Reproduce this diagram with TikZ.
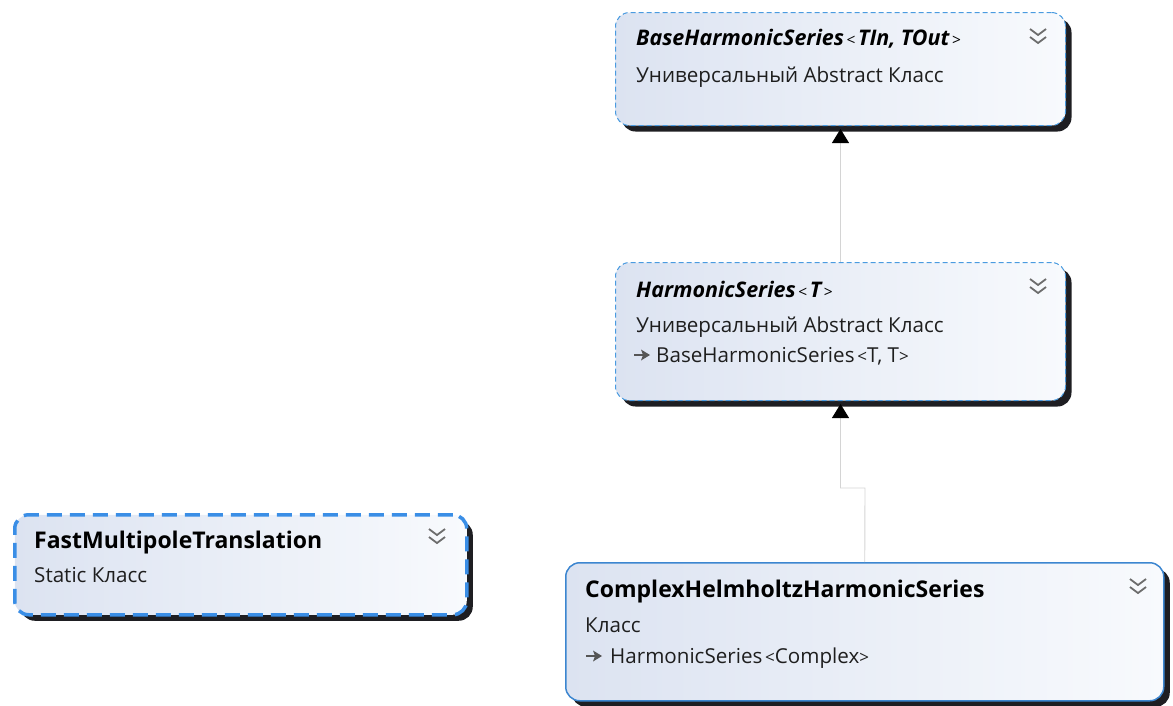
\documentclass[tikz,border=0pt]{standalone}
\usepackage{fontspec}
\setmainfont{Open Sans}
\usetikzlibrary{arrows.meta,shadows,calc}
\definecolor{boxL}{HTML}{DCE3F1}
\definecolor{boxR}{HTML}{F8FAFD}
\definecolor{bordc}{HTML}{4A9BE0}
\definecolor{thickc}{HTML}{3A8EE6}
\definecolor{solidc}{HTML}{3C86D0}
\definecolor{shadc}{HTML}{1E1E22}
\definecolor{linec}{HTML}{D4D4D4}
\definecolor{txtc}{HTML}{1E1E1E}
\definecolor{chevc}{HTML}{6E6E6E}
\definecolor{iconc}{HTML}{555555}
\newcommand\angL{{\fontsize{15.5}{15.5}\selectfont\mdseries\upshape\,<\,}}
\newcommand\angR{{\fontsize{15.5}{15.5}\selectfont\mdseries\upshape\,>}}
\newcommand\sangL{{\fontsize{17}{17}\selectfont\,<}}
\newcommand\sangR{{\fontsize{17}{17}\selectfont>}}
\begin{document}
\begin{tikzpicture}[x=1pt,y=-1pt,
  box/.style={rounded corners=14pt, left color=boxL, right color=boxR,
    drop shadow={shadow xshift=6pt, shadow yshift=-6pt, fill=shadc, opacity=1},
    anchor=north west, inner sep=0pt},
  thindash/.style={draw=bordc, line width=1pt, dash pattern=on 5pt off 3pt},
  thickdash/.style={draw=thickc, line width=3.5pt, dash pattern=on 15pt off 8pt},
  solidb/.style={draw=solidc, line width=1.5pt},
  title/.style={anchor=base west, inner sep=0pt, text=black, font=\fontsize{23}{27}\selectfont\bfseries},
  ititle/.style={title, font=\fontsize{21.5}{26}\selectfont\bfseries\itshape},
  sub/.style={anchor=base west, inner sep=0pt, text=txtc, font=\fontsize{20.6}{24}\selectfont},
  conn/.style={draw=linec, line width=0.9pt},
  tipA/.style={-{Triangle[width=17pt,length=14pt,color=black]}},
  chev/.pic={\draw[chevc, line width=1.8pt] (-8,-8) -- (0,-2) -- (8,-8) (-8,0) -- (0,6) -- (8,0);},
  inh/.pic={\draw[iconc, line width=2.2pt] (0,0) -- (9,0); \fill[iconc] (7,-5.5) -- (16,0) -- (7,5.5) -- (9,0) -- cycle;}
]
\useasboundingbox (0,0) rectangle (1173,705);

% boxes
\node[box, thindash, minimum width=450pt, minimum height=113pt] (base) at (615,12) {};
\node[box, thindash, minimum width=450pt, minimum height=138pt] (harm) at (615,262) {};
\node[box, thickdash, minimum width=452pt, minimum height=100pt] (fast) at (13,513) {};
\node[box, solidb, minimum width=598pt, minimum height=138pt] (cplx) at (565,562) {};

% texts
\node[ititle] (baseT) at (636,45) {BaseHarmonicSeries\angL TIn, TOut\angR};
\node[sub] (baseS) at (636,82) {Универсальный Abstract Класс};

\node[ititle] (harmT) at (636,297) {HarmonicSeries\angL T\angR};
\node[sub] (harmS) at (636,332) {Универсальный Abstract Класс};
\node[sub] (harmB) at (656,362) {BaseHarmonicSeries\sangL T, T\sangR};

\node[title] (fastT) at (34,548) {FastMultipoleTranslation};
\node[sub] (fastS) at (34,582) {Static Класс};

\node[title] (cplxT) at (585,597) {ComplexHelmholtzHarmonicSeries};
\node[sub] (cplxS) at (585,632) {Класс};
\node[sub] (cplxB) at (610,663) {HarmonicSeries\sangL Complex\sangR};

% icons
\pic at (634,355) {inh};
\pic at (586,656) {inh};
\pic at (1038,37) {chev};
\pic at (1038,287) {chev};
\pic at (437,537) {chev};
\pic at (1138,587) {chev};

% connectors
\draw[conn, tipA] (harm.north) -- ([yshift=-3pt]base.south);
\coordinate (bend) at (865,488);
\draw[conn, tipA] (cplx.north) -- (bend) -| ([yshift=-3pt]harm.south);
\end{tikzpicture}
\end{document}
